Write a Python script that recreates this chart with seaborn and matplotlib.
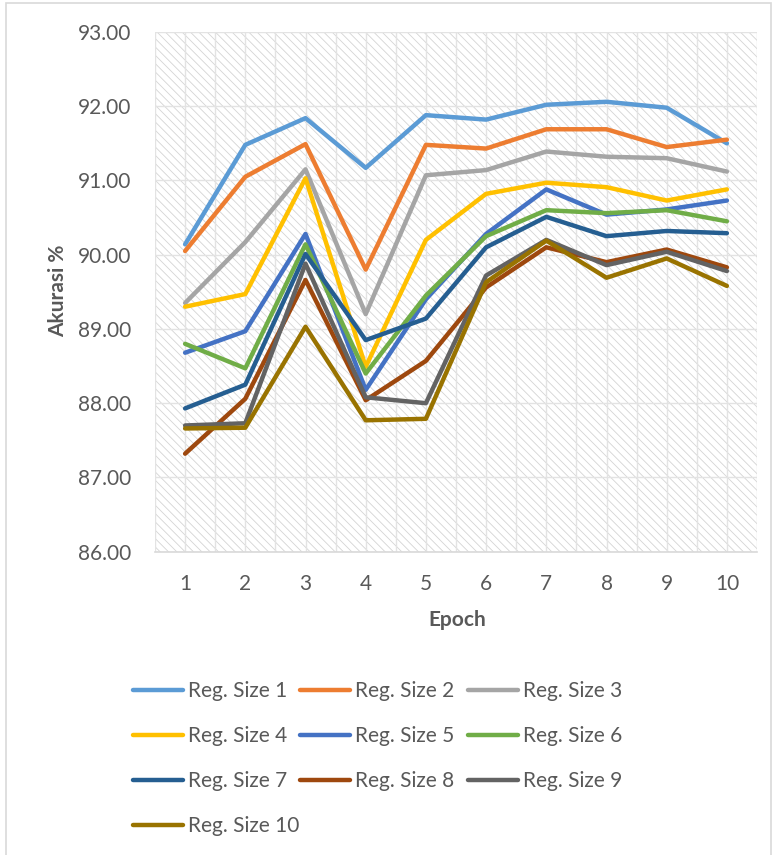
import numpy as np
import pandas as pd
import matplotlib.pyplot as plt
import seaborn as sns
from matplotlib.patches import Rectangle

# data
epochs = list(range(1, 11))
series_names = ['Reg. Size %d' % i for i in range(1, 11)]
reg1 = [90.14, 91.48, 91.84, 91.17, 91.88, 91.82, 92.02, 92.06, 91.98, 91.50]
reg2 = [90.05, 91.05, 91.49, 89.80, 91.48, 91.43, 91.69, 91.69, 91.45, 91.55]
reg3 = [89.35, 90.17, 91.15, 89.20, 91.07, 91.14, 91.39, 91.32, 91.30, 91.12]
reg4 = [89.30, 89.47, 91.03, 88.49, 90.20, 90.82, 90.97, 90.91, 90.73, 90.88]
reg5 = [88.68, 88.97, 90.28, 88.18, 89.40, 90.28, 90.88, 90.54, 90.61, 90.73]
reg6 = [88.80, 88.47, 90.14, 88.40, 89.45, 90.25, 90.60, 90.56, 90.60, 90.45]
reg7 = [87.93, 88.25, 90.01, 88.85, 89.14, 90.10, 90.51, 90.25, 90.32, 90.29]
reg8 = [87.32, 88.06, 89.66, 88.04, 88.57, 89.56, 90.10, 89.90, 90.07, 89.83]
reg9 = [87.70, 87.73, 89.88, 88.08, 88.00, 89.72, 90.20, 89.86, 90.04, 89.78]
reg10 = [87.66, 87.67, 89.03, 87.77, 87.79, 89.63, 90.19, 89.69, 89.95, 89.58]
all_vals = [reg1, reg2, reg3, reg4, reg5, reg6, reg7, reg8, reg9, reg10]

colors = ['#5B9BD5', '#ED7D31', '#A5A5A5', '#FFC000', '#4472C4',
          '#70AD47', '#255E91', '#9E480E', '#636363', '#997300']

df = pd.DataFrame({
    'Epoch': epochs * len(series_names),
    'Akurasi': sum(all_vals, []),
    'Series': [n for n in series_names for _ in epochs],
})

sns.set_style('white')
plt.rcParams['font.family'] = ['Lato', 'DejaVu Sans']
plt.rcParams['hatch.linewidth'] = 0.6
txt_color = '#595959'

fig = plt.figure(figsize=(7.78, 8.55), dpi=100)
ax = fig.add_axes([155 / 778, 1 - 551.7 / 855, 602 / 778, 519.7 / 855])

# hatched plot area like the Excel pattern fill
ax.add_patch(Rectangle((0, 0), 1, 1, transform=ax.transAxes, facecolor='white',
                       edgecolor='#d4d4d4', hatch='\\\\\\\\', linewidth=0, zorder=0.1))

sns.lineplot(data=df, x='Epoch', y='Akurasi', hue='Series', hue_order=series_names,
             palette=colors, linewidth=3.2, ax=ax, zorder=2,
             solid_capstyle='round', solid_joinstyle='round')

ax.set_xlim(0.5, 10.5)
ax.set_ylim(86, 93)
ax.set_xticks(epochs)
ax.set_xticks(np.arange(0.5, 11, 0.5), minor=True)
ax.set_yticks(np.arange(86, 93.5, 1))
ax.set_yticklabels(['%.2f' % v for v in np.arange(86, 93.5, 1)])
ax.set_axisbelow(True)
ax.grid(True, which='both', axis='x', color='#e3e3e3', linewidth=1.0, zorder=0.5)
ax.grid(True, which='major', axis='y', color='#e3e3e3', linewidth=1.0, zorder=0.5)
ax.tick_params(axis='both', which='both', length=0, labelsize=15, colors=txt_color)
ax.tick_params(axis='y', pad=17)
ax.tick_params(axis='x', pad=16)
for s in ['top', 'left', 'right']:
    ax.spines[s].set_visible(False)
ax.spines['bottom'].set_color('#d9d9d9')
ax.spines['bottom'].set_linewidth(1.2)
ax.set_xlabel('')
ax.set_ylabel('')

fig.text(58 / 778, 1 - 291 / 855, 'Akurasi %', rotation=90, ha='center', va='center',
         fontsize=15, fontweight='bold', color=txt_color)
fig.text(457 / 778, 1 - 620 / 855, 'Epoch', ha='center', va='center',
         fontsize=15, fontweight='bold', color=txt_color)

# legend laid out row-wise in 3 columns, like Excel
handles, labels = ax.get_legend_handles_labels()
ax.get_legend().remove()
for h in handles:
    h.set_solid_capstyle('round')
col_x = [133, 300, 468]
for c in range(3):
    idx = list(range(c, len(handles), 3))
    leg = fig.legend([handles[i] for i in idx], [labels[i] for i in idx],
                     loc='upper left', bbox_to_anchor=(col_x[c] / 778, 1 - 681 / 855),
                     frameon=False, fontsize=15, handlelength=2.4, handletextpad=0.25,
                     labelspacing=1.2, borderpad=0, borderaxespad=0)
    for t in leg.get_texts():
        t.set_color(txt_color)

# outer chart border
fig.add_artist(Rectangle((6 / 778, -0.05), 765 / 778, 1.05 - 3 / 855, transform=fig.transFigure,
                         fill=False, edgecolor='#d9d9d9', linewidth=1.2))

fig.savefig('out.png', dpi=100)
